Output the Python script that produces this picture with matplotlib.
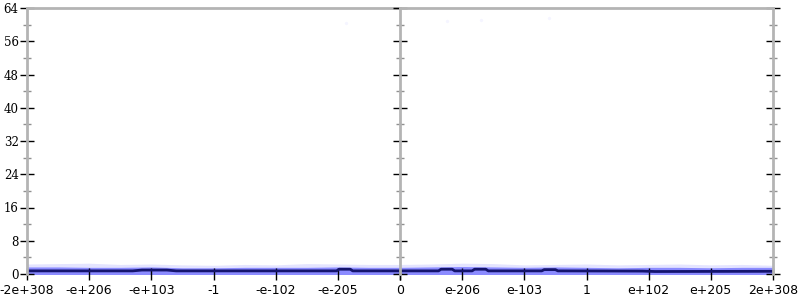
import numpy as np
import matplotlib.pyplot as plt

# x axis is an ordinal double scale, drawn here as -6..6 with labels
x_ticks = [-6, -5, -4, -3, -2, -1, 0, 1, 2, 3, 4, 5, 6]
x_labels = ["-2e+308", "-e+206", "-e+103", "-1", "-e-102", "-e-205", "0",
            "e-206", "e-103", "1", "e+102", "e+205", "2e+308"]
y_major = [0, 8, 16, 24, 32, 40, 48, 56, 64]
y_minor = [4, 12, 20, 28, 36, 44, 52, 60]

# main error line (bits of error)
line_x = [-6.0, -4.3, -4.15, -3.75, -3.6, -1.02, -0.98, -0.80, -0.76,
          0.62, 0.66, 0.84, 0.88, 1.16, 1.20, 1.38, 1.42,
          2.28, 2.32, 2.50, 2.54, 3.9, 4.1, 6.0]
line_y = [0.75, 0.75, 0.95, 0.95, 0.75, 0.75, 1.15, 1.15, 0.75,
          0.75, 1.15, 1.15, 0.75, 0.75, 1.15, 1.15, 0.75,
          0.75, 1.05, 1.05, 0.75, 0.7, 0.6, 0.65]

# faint cloud of sampled points, as an envelope
band_x = [-6, -5.5, -5, -4.5, -4, -3.5, -3, -2.5, -2, -1.5, -1, -0.5, 0,
          0.5, 1, 1.5, 2, 2.5, 3, 3.5, 4, 4.5, 5, 5.5, 6]
band_hi = [2.4, 2.5, 2.6, 2.3, 2.4, 2.2, 2.1, 2.3, 2.2, 2.5, 2.4, 2.3, 2.3,
           2.4, 2.6, 2.5, 2.2, 2.3, 2.4, 2.2, 2.3, 2.4, 2.2, 2.3, 2.1]
band_mid = [1.7, 1.7, 1.6, 1.6, 1.7, 1.5, 1.5, 1.6, 1.6, 1.6, 1.7, 1.6, 1.6,
            1.7, 1.8, 1.7, 1.6, 1.7, 1.6, 1.5, 1.6, 1.6, 1.5, 1.6, 1.6]

# stray high-error samples
out_x = [-0.87, 0.76, 1.30, 2.40]
out_y = [60.5, 60.8, 61.2, 61.5]

fig = plt.figure(figsize=(8, 3), dpi=100)
left = 27 / 800
width = (773 - 27) / 800 / 2
bottom = 26 / 300
height = (274 - 8) / 300
ax_l = fig.add_axes([left, bottom, width, height])
ax_r = fig.add_axes([left + width, bottom, width, height])

grey = "#b4b4b4"
for ax, lim in ((ax_l, (-6, 0)), (ax_r, (0, 6))):
    ax.fill_between(band_x, -0.3, band_hi, color="#3030ff", alpha=0.13, lw=0)
    ax.fill_between(band_x, -0.3, band_mid, color="#2020ff", alpha=0.45, lw=0)
    ax.plot(line_x, line_y, color="#14146e", lw=2)
    ax.scatter(out_x, out_y, s=6, color="#0000ff", alpha=0.04, lw=0)
    ax.set_xlim(*lim)
    ax.set_ylim(0, 64)
    ax.spines["bottom"].set_visible(False)
    for s in ("left", "right", "top"):
        ax.spines[s].set_color(grey)
        ax.spines[s].set_linewidth(2)
    ax.set_yticks(y_major)
    ax.set_yticks(y_minor, minor=True)
    ax.tick_params(axis="y", which="major", direction="inout", length=10,
                   width=1, color="black", left=True, right=True, pad=1)
    ax.tick_params(axis="y", which="minor", direction="inout", length=6,
                   width=1, color="#909090", left=True, right=True)
    ax.set_xticks([t for t in x_ticks if lim[0] <= t <= lim[1]])
    ax.set_xticklabels([l for t, l in zip(x_ticks, x_labels) if lim[0] <= t <= lim[1]],
                       fontfamily="DejaVu Sans", fontsize=9)
    ax.tick_params(axis="x", direction="inout", length=9, width=1,
                   color="black", pad=3)

ax_l.spines["right"].set_visible(False)
ax_l.tick_params(axis="y", which="both", right=False)
for lab in ax_l.get_yticklabels():
    lab.set_fontfamily("DejaVu Serif")
    lab.set_fontsize(8.5)
ax_r.tick_params(axis="y", labelleft=False)
# both halves draw the 0 label; keep only one
ax_r.set_xticklabels([""] + x_labels[7:], fontfamily="DejaVu Sans", fontsize=9)

plt.savefig("out.png", dpi=100)
